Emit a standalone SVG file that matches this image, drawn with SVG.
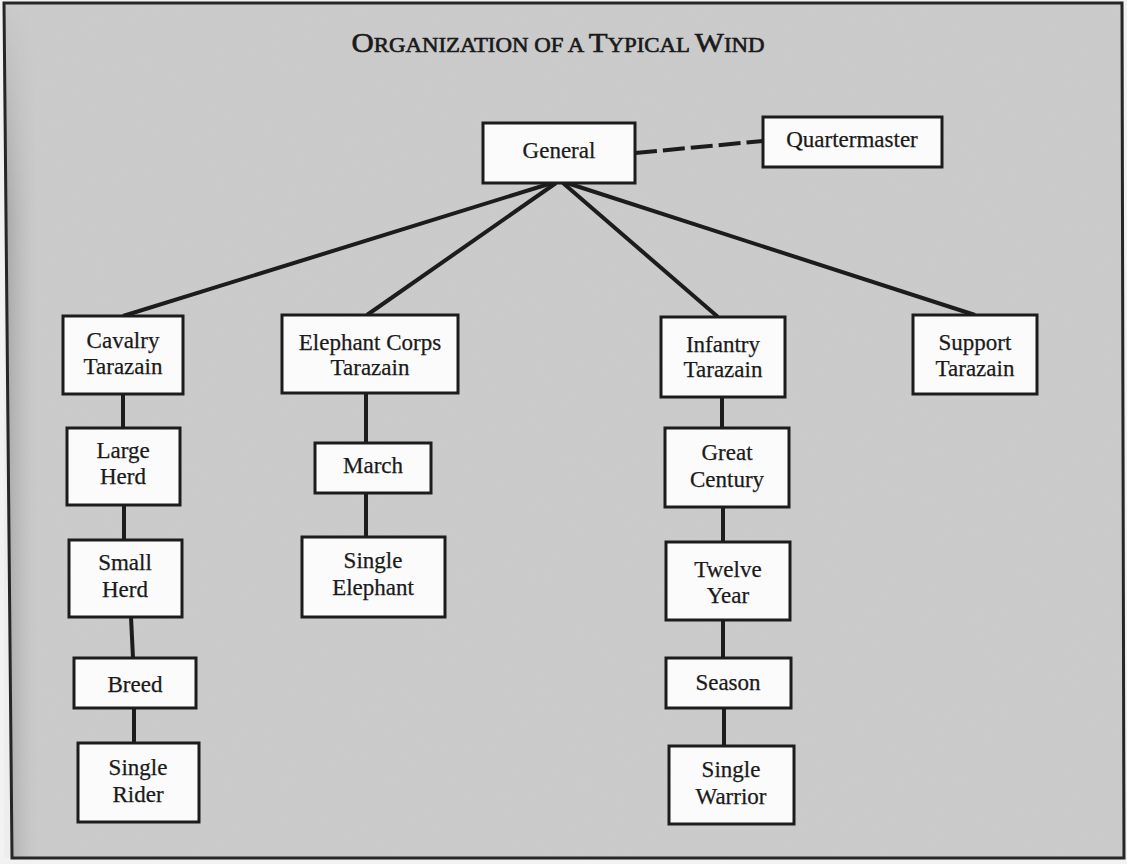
<svg xmlns="http://www.w3.org/2000/svg" width="1127" height="864" viewBox="0 0 1127 864">
  <style>
    .box { fill: #fbfbfb; stroke: #1c1c1c; stroke-width: 3; }
    .lbl { font-family: "Liberation Serif", "DejaVu Serif", serif; font-size: 23px; fill: #1a1a1a; text-anchor: middle; stroke: #1a1a1a; stroke-width: 0.25; }
    .conn { stroke: #1c1c1c; stroke-width: 4; fill: none; stroke-linecap: butt; }
    .title { font-family: "Liberation Serif", "DejaVu Serif", serif; fill: #1a1a1a; stroke: #1a1a1a; stroke-width: 0.6; }
  </style>
  <defs>
    <linearGradient id="leftShade" x1="0" y1="0" x2="1" y2="0">
      <stop offset="0" stop-color="#9a9a9a"/>
      <stop offset="1" stop-color="#c9c9c9" stop-opacity="0"/>
    </linearGradient>
    <linearGradient id="shadeMask" x1="0" y1="0" x2="0" y2="1">
      <stop offset="0" stop-color="#fff" stop-opacity="0"/>
      <stop offset="0.25" stop-color="#fff" stop-opacity="1"/>
      <stop offset="1" stop-color="#fff" stop-opacity="1"/>
    </linearGradient>
    <mask id="fadeTop"><rect x="0" y="0" width="60" height="864" fill="url(#shadeMask)"/></mask>
    <filter id="grain" x="0" y="0" width="100%" height="100%">
      <feTurbulence type="fractalNoise" baseFrequency="0.9" numOctaves="2" seed="3"/>
      <feColorMatrix type="matrix" values="0 0 0 0 0.5  0 0 0 0 0.5  0 0 0 0 0.5  0 0 0 0.18 0"/>
    </filter>
  </defs>

  <!-- page -->
  <rect x="0" y="0" width="1127" height="864" fill="#f2f2f2"/>
  <polygon points="4,3 1122,3 1124,858 12,858" fill="#cccccc"/>
  <rect x="4" y="3" width="1120" height="855" filter="url(#grain)"/>
  <polygon points="4,3 34,3 42,858 12,858" fill="url(#leftShade)" opacity="0.8" mask="url(#fadeTop)"/>
  <polygon points="4,3 1122,3 1124,858 12,858" fill="none" stroke="#262626" stroke-width="3"/>

  <!-- title -->
  <text class="title" x="558" y="52" text-anchor="middle" textLength="413" lengthAdjust="spacingAndGlyphs"><tspan font-size="27">O</tspan><tspan font-size="20">RGANIZATION OF A </tspan><tspan font-size="27">T</tspan><tspan font-size="20">YPICAL </tspan><tspan font-size="27">W</tspan><tspan font-size="20">IND</tspan></text>

  <!-- connectors -->
  <g id="connectors">
    <line class="conn" x1="635" y1="153" x2="763" y2="141" stroke-dasharray="22 6" stroke-width="4"/>
    <line class="conn" x1="552" y1="183" x2="123" y2="316"/>
    <line class="conn" x1="556" y1="183" x2="367" y2="315"/>
    <line class="conn" x1="563" y1="183" x2="718" y2="317"/>
    <line class="conn" x1="567" y1="183" x2="975" y2="315"/>
    <line class="conn" x1="123" y1="394" x2="123" y2="428" stroke-width="3"/>
    <line class="conn" x1="124" y1="505" x2="124" y2="540" stroke-width="3"/>
    <line class="conn" x1="131" y1="617" x2="133" y2="658" stroke-width="3"/>
    <line class="conn" x1="134" y1="708" x2="134" y2="743" stroke-width="3"/>
    <line class="conn" x1="366" y1="393" x2="366" y2="443" stroke-width="3"/>
    <line class="conn" x1="366" y1="493" x2="366" y2="537" stroke-width="3"/>
    <line class="conn" x1="722" y1="397" x2="722" y2="428" stroke-width="3"/>
    <line class="conn" x1="723" y1="507" x2="723" y2="542" stroke-width="3"/>
    <line class="conn" x1="723" y1="620" x2="723" y2="658" stroke-width="3"/>
    <line class="conn" x1="724" y1="708" x2="724" y2="746" stroke-width="3"/>
  </g>

  <!-- nodes -->
  <g id="general"><rect class="box" x="483" y="123" width="152" height="60"/><text class="lbl" x="559" y="158">General</text></g>
  <g id="quartermaster"><rect class="box" x="763" y="117" width="179" height="50"/><text class="lbl" x="852" y="147">Quartermaster</text></g>

  <g id="cavalry"><rect class="box" x="63" y="316" width="120" height="78"/><text class="lbl" x="123" y="348">Cavalry</text><text class="lbl" x="123" y="374">Tarazain</text></g>
  <g id="elephant-corps"><rect class="box" x="282" y="315" width="176" height="78"/><text class="lbl" x="370" y="350">Elephant Corps</text><text class="lbl" x="370" y="375">Tarazain</text></g>
  <g id="infantry"><rect class="box" x="661" y="317" width="124" height="80"/><text class="lbl" x="723" y="352">Infantry</text><text class="lbl" x="723" y="377">Tarazain</text></g>
  <g id="support"><rect class="box" x="913" y="315" width="124" height="79"/><text class="lbl" x="975" y="350">Support</text><text class="lbl" x="975" y="376">Tarazain</text></g>

  <g id="large-herd"><rect class="box" x="67" y="428" width="113" height="77"/><text class="lbl" x="123" y="458">Large</text><text class="lbl" x="123" y="484">Herd</text></g>
  <g id="small-herd"><rect class="box" x="69" y="540" width="113" height="77"/><text class="lbl" x="125" y="570">Small</text><text class="lbl" x="125" y="597">Herd</text></g>
  <g id="breed"><rect class="box" x="74" y="658" width="122" height="50"/><text class="lbl" x="135" y="692">Breed</text></g>
  <g id="single-rider"><rect class="box" x="78" y="743" width="121" height="79"/><text class="lbl" x="138" y="775">Single</text><text class="lbl" x="138" y="802">Rider</text></g>

  <g id="march"><rect class="box" x="315" y="443" width="116" height="50"/><text class="lbl" x="373" y="473">March</text></g>
  <g id="single-elephant"><rect class="box" x="302" y="537" width="143" height="80"/><text class="lbl" x="373" y="568">Single</text><text class="lbl" x="373" y="595">Elephant</text></g>

  <g id="great-century"><rect class="box" x="665" y="428" width="124" height="79"/><text class="lbl" x="727" y="460">Great</text><text class="lbl" x="727" y="487">Century</text></g>
  <g id="twelve-year"><rect class="box" x="666" y="542" width="124" height="78"/><text class="lbl" x="728" y="577">Twelve</text><text class="lbl" x="728" y="603">Year</text></g>
  <g id="season"><rect class="box" x="666" y="658" width="125" height="50"/><text class="lbl" x="728" y="690">Season</text></g>
  <g id="single-warrior"><rect class="box" x="669" y="746" width="125" height="78"/><text class="lbl" x="731" y="777">Single</text><text class="lbl" x="731" y="804">Warrior</text></g>
</svg>
